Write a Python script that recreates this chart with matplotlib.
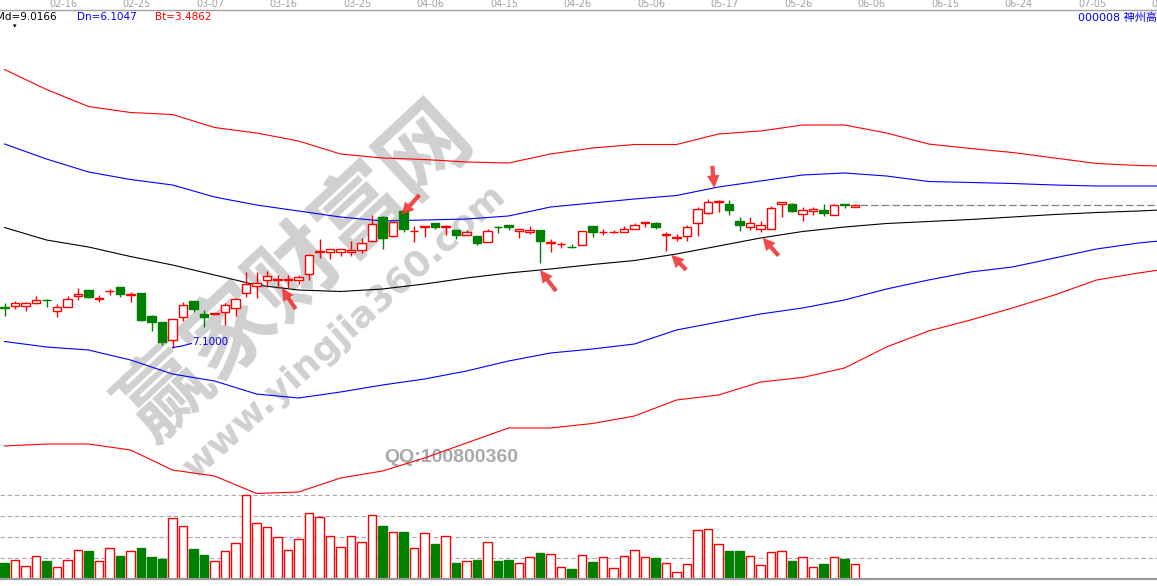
import numpy as np
import matplotlib
matplotlib.use("Agg")
import matplotlib.pyplot as plt
from matplotlib.patches import Rectangle
from matplotlib.transforms import blended_transform_factory

# daily candles (price)
opens = [7.51, 7.52, 7.52, 7.55, 7.58, 7.47, 7.51, 7.62, 7.68, 7.59,
         7.665, 7.70, 7.63, 7.645, 7.415, 7.355, 7.175, 7.41, 7.565, 7.44,
         7.44, 7.46, 7.50, 7.65, 7.715, 7.775, 7.78, 7.78, 7.775, 7.84,
         8.06, 8.055, 8.06, 8.06, 8.075, 8.17, 8.41, 8.21, 8.465, 8.265,
         8.305, 8.35, 8.305, 8.275, 8.225, 8.215, 8.16, 8.305, 8.32, 8.265,
         8.255, 8.275, 8.145, 8.13, 8.11, 8.125, 8.31, 8.255, 8.255, 8.26,
         8.29, 8.35, 8.35, 8.22, 8.20, 8.21, 8.35, 8.45, 8.56, 8.535,
         8.365, 8.30, 8.29, 8.29, 8.535, 8.54, 8.44, 8.46, 8.475, 8.43,
         8.535, 8.51]
highs = [7.55, 7.57, 7.56, 7.62, 7.59, 7.54, 7.62, 7.70, 7.68, 7.63,
         7.69, 7.70, 7.66, 7.645, 7.425, 7.355, 7.39, 7.56, 7.565, 7.475,
         7.45, 7.55, 7.60, 7.86, 7.86, 7.865, 7.825, 7.825, 7.825, 8.04,
         8.185, 8.08, 8.09, 8.17, 8.20, 8.425, 8.415, 8.355, 8.465, 8.315,
         8.315, 8.35, 8.325, 8.275, 8.275, 8.215, 8.29, 8.32, 8.32, 8.29,
         8.315, 8.28, 8.19, 8.16, 8.14, 8.265, 8.32, 8.29, 8.275, 8.315,
         8.35, 8.355, 8.36, 8.26, 8.235, 8.325, 8.51, 8.59, 8.58, 8.575,
         8.41, 8.41, 8.365, 8.52, 8.56, 8.55, 8.51, 8.51, 8.54, 8.54,
         8.535, 8.54]
lows = [7.42, 7.49, 7.47, 7.54, 7.51, 7.41, 7.51, 7.58, 7.60, 7.56,
        7.63, 7.61, 7.56, 7.37, 7.27, 7.13, 7.10, 7.37, 7.46, 7.31,
        7.44, 7.33, 7.42, 7.61, 7.60, 7.71, 7.70, 7.70, 7.74, 7.775,
        8.00, 7.99, 8.015, 8.015, 8.05, 8.17, 8.09, 8.21, 8.26, 8.16,
        8.21, 8.285, 8.225, 8.185, 8.225, 8.13, 8.16, 8.25, 8.275, 8.20,
        8.24, 7.95, 8.06, 8.10, 8.10, 8.125, 8.21, 8.225, 8.248, 8.26,
        8.29, 8.31, 8.29, 8.07, 8.17, 8.17, 8.215, 8.435, 8.46, 8.425,
        8.27, 8.275, 8.255, 8.29, 8.41, 8.46, 8.37, 8.43, 8.415, 8.43,
        8.50, 8.51]
closes = [7.50, 7.55, 7.54, 7.58, 7.575, 7.51, 7.59, 7.64, 7.61, 7.595,
          7.67, 7.64, 7.64, 7.38, 7.36, 7.155, 7.39, 7.53, 7.485, 7.41,
          7.45, 7.53, 7.585, 7.74, 7.75, 7.82, 7.785, 7.785, 7.81, 8.03,
          8.065, 8.08, 8.085, 8.075, 8.15, 8.34, 8.20, 8.355, 8.285, 8.27,
          8.31, 8.30, 8.31, 8.22, 8.25, 8.15, 8.27, 8.30, 8.30, 8.29,
          8.275, 8.17, 8.15, 8.135, 8.105, 8.265, 8.26, 8.26, 8.26, 8.29,
          8.325, 8.355, 8.30, 8.235, 8.205, 8.30, 8.48, 8.55, 8.565, 8.475,
          8.33, 8.34, 8.33, 8.50, 8.55, 8.465, 8.475, 8.485, 8.45, 8.525,
          8.53, 8.525]
volumes = [16.3, 19, 13, 23, 18.3, 12, 19, 29, 28.3, 18,
           31, 23.3, 28, 31.3, 22.3, 20.3, 61, 53, 30.3, 24.3,
           18, 28, 36, 84, 56, 52, 42, 29, 40, 66,
           62, 43, 32, 43, 37, 64, 53.3, 47, 47.3, 31,
           46, 35.3, 43, 16.3, 18, 19.3, 37, 18.3, 19.3, 16,
           22, 26.3, 25, 12, 10.3, 24, 17.3, 22, 11, 23,
           29, 22, 21.3, 16, 7, 15, 49, 50, 35, 28.3,
           28.3, 23, 14, 27, 28, 18.3, 22, 12, 15.3, 22,
           20.3, 15]

# band lines, sampled every few bars (they run on past the last bar)
band_idx = [0, 4, 8, 12, 16, 20, 24, 28, 32, 36, 40, 44, 48, 52, 56, 60,
            64, 68, 72, 76, 80, 84, 88, 92, 96, 100, 104, 108, 110]
upper2 = [9.88, 9.68, 9.51, 9.45, 9.43, 9.30, 9.245, 9.165, 9.035, 8.995,
          8.98, 8.955, 8.945, 9.035, 9.095, 9.13, 9.13, 9.235, 9.265, 9.325,
          9.325, 9.245, 9.135, 9.09, 9.05, 8.995, 8.94, 8.92, 8.915]
upper1 = [9.135, 8.985, 8.855, 8.78, 8.725, 8.605, 8.525, 8.465, 8.405, 8.365,
          8.375, 8.385, 8.415, 8.505, 8.545, 8.585, 8.62, 8.705, 8.765, 8.825,
          8.845, 8.815, 8.76, 8.75, 8.74, 8.725, 8.715, 8.715, 8.715]
mid = [8.30, 8.175, 8.105, 8.01, 7.925, 7.825, 7.725, 7.675, 7.66, 7.685,
       7.735, 7.795, 7.845, 7.885, 7.93, 7.97, 8.035, 8.115, 8.195, 8.26,
       8.305, 8.34, 8.36, 8.38, 8.405, 8.43, 8.45, 8.465, 8.475]
lower1 = [7.16, 7.105, 7.075, 6.975, 6.835, 6.765, 6.635, 6.595, 6.655, 6.725,
          6.785, 6.865, 6.965, 7.045, 7.085, 7.135, 7.275, 7.355, 7.435, 7.495,
          7.575, 7.685, 7.775, 7.855, 7.905, 7.995, 8.085, 8.145, 8.165]
lower2 = [6.115, 6.135, 6.135, 6.075, 5.875, 5.815, 5.64, 5.655, 5.795, 5.865,
          5.995, 6.145, 6.295, 6.295, 6.34, 6.415, 6.575, 6.625, 6.755, 6.80,
          6.895, 7.105, 7.265, 7.375, 7.495, 7.625, 7.775, 7.845, 7.875]

dates = ["02-16", "02-25", "03-07", "03-16", "03-25", "04-06", "04-15", "04-26",
         "05-06", "05-17", "05-26", "06-06", "06-15", "06-24", "07-05", "07-16"]
date_idx = [5, 12, 19, 26, 33, 40, 47, 54, 61, 68, 75, 82, 89, 96, 103, 110]

RED = "#ff0000"
GREEN = "#008000"
BLUE = "#0000ff"

W, H = 1157, 586
fig = plt.figure(figsize=(W / 100, H / 100), dpi=100)
fig.patch.set_facecolor("white")

ax = fig.add_axes([0, (H - 494) / H, 1, (494 - 9.5) / H])
vax = fig.add_axes([0, (H - 579.3) / H, 1, 86.3 / H])
for a in (ax, vax):
    a.set_facecolor("none")
    a.set_xlim(-0.43, 109.76)
    for s in a.spines.values():
        s.set_visible(False)
    a.set_yticks([])
ax.set_ylim(5.635, 10.48)
vax.set_ylim(0, 86.3)
vax.set_xticks([])
ax.set_xticks([])
ax.spines["top"].set_visible(True)
ax.spines["top"].set_color("#a0a0a0")
ax.spines["top"].set_linewidth(1.0)

n = len(opens)
x = np.arange(n)
up = [c >= o for o, c in zip(opens, closes)]

# candles
for i in range(n):
    col = RED if up[i] else GREEN
    ax.vlines(i, lows[i], highs[i], color=col, lw=1.0, zorder=3)
    lo, hi = min(opens[i], closes[i]), max(opens[i], closes[i])
    ax.add_patch(Rectangle((i - 0.4, lo), 0.8, hi - lo,
                           facecolor="white" if up[i] else GREEN,
                           edgecolor=col, lw=1.0, zorder=4))

# bands
ax.plot(band_idx, upper2, color=RED, lw=0.8, zorder=2)
ax.plot(band_idx, upper1, color=BLUE, lw=0.8, zorder=2)
ax.plot(band_idx, mid, color="black", lw=0.8, zorder=2)
ax.plot(band_idx, lower1, color=BLUE, lw=0.8, zorder=2)
ax.plot(band_idx, lower2, color=RED, lw=0.8, zorder=2)

# last close carried to the right edge
ax.plot([n - 0.5, 110], [closes[-1], closes[-1]], color="#808080",
        lw=0.9, ls=(0, (6, 2.5)), zorder=2)

# low marker
lo_i = int(np.argmin(lows))
ax.plot([lo_i, lo_i + 0.9, lo_i + 1.8], [lows[lo_i], lows[lo_i] + 0.015, lows[lo_i] + 0.04],
        color=BLUE, lw=0.8, zorder=5)
ax.text(lo_i + 1.9, lows[lo_i] + 0.055, f"{lows[lo_i]:.4f}", color=BLUE,
        fontsize=7.5, va="center", ha="left", zorder=5)

# red arrows
arrows = [(26.4, mid, (14, -21)), (37.8, None, (18, 20)), (51, mid, (16, -21)),
          (63.5, mid, (15, -15)), (67.6, upper1, (-2, 22)), (72.2, mid, (16, -18))]
for xi, line, off in arrows:
    if line is None:
        yi = highs[38] - 0.04
    else:
        yi = np.interp(xi, band_idx, line)
    ax.annotate("", xy=(xi, yi), xytext=off, textcoords="offset pixels",
                arrowprops=dict(arrowstyle="simple,head_length=0.9,head_width=0.9,tail_width=0.3",
                                color="#f03535", alpha=0.9, lw=0, shrinkA=0, shrinkB=0),
                zorder=6)

# dates along the top
tr = blended_transform_factory(ax.transData, fig.transFigure)
for d, di in zip(dates, date_idx):
    ax.text(di + 0.6, 1 - 4 / H, d, transform=tr, color="#a0a0a0",
            fontsize=7, ha="center", va="center", clip_on=False)

# volume panel
vcol = [RED if u else GREEN for u in up]
vface = ["white" if u else GREEN for u in up]
vax.bar(x, volumes, width=0.8, color=vface, edgecolor=vcol, lw=1.0, zorder=3)
vmax = max(volumes)
for k in range(1, 5):
    vax.axhline(vmax * k / 4, color="#a8a8a8", lw=0.8, ls=(0, (4, 2.5)), zorder=1)
vax.axhline(0, color="#999999", lw=1.6, zorder=4, clip_on=False)

# indicator readout
fig.text(-4 / W, 1 - 17.5 / H, "Md=9.0166", color="black", fontsize=7.5, va="center")
fig.text(77 / W, 1 - 17.5 / H, "Dn=6.1047", color=BLUE, fontsize=7.5, va="center")
fig.text(155 / W, 1 - 17.5 / H, "Bt=3.4862", color=RED, fontsize=7.5, va="center")
fig.text(15 / W, 1 - 26 / H, "\u25be", color="black", fontsize=5, ha="center", va="center")
fig.text(1078 / W, 1 - 17.5 / H, "000008 神州高铁", color=BLUE, fontsize=8,
         va="center", family=["DejaVu Sans", "Noto Sans CJK SC"])

# watermark
fig.text(297 / W, 1 - 272 / H, "赢家财富网", color="#c0c0c0", alpha=0.75, fontsize=64,
         rotation=43, ha="center", va="center", fontweight="bold",
         family=["Noto Sans CJK SC"], zorder=-1)
fig.text(345 / W, 1 - 332 / H, "www.yingjia360.com", color="#c0c0c0", alpha=0.75,
         fontsize=26, rotation=42, ha="center", va="center", fontweight="bold", zorder=-1)
fig.text(451 / W, 1 - 457 / H, "QQ:100800360", color="#a8a8a8", fontsize=14,
         ha="center", va="center", fontweight="bold", family=["Liberation Sans"], zorder=-1)

fig.savefig("out.png", dpi=100, facecolor="white")
